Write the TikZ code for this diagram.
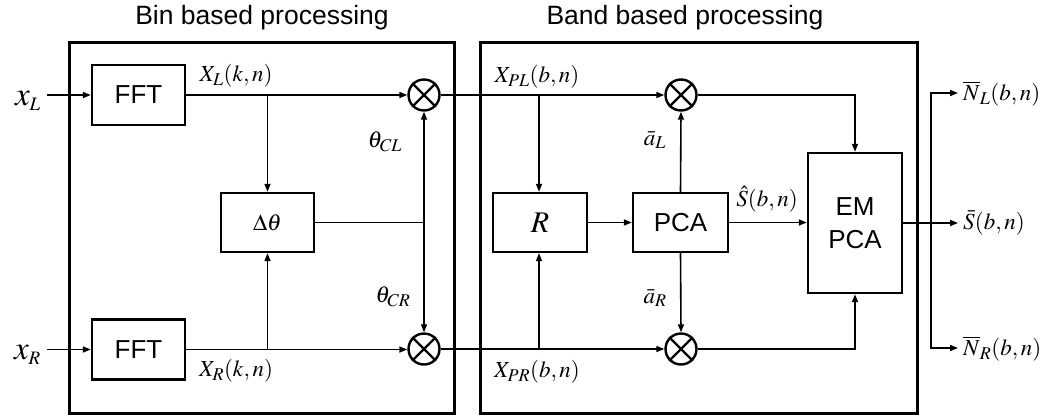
\documentclass[tikz,border=0pt]{standalone}
\usepackage{mathptmx}
\usepackage{fontspec}
\setsansfont{Liberation Sans}
\usetikzlibrary{arrows.meta,calc}
\DeclareMathSizes{23}{23}{18}{14}
\DeclareMathSizes{33}{33}{19}{14}
\newcommand\sz[1]{\fontsize{#1}{#1}\selectfont}
\tikzset{
 conn/.style={line width=1.6pt, -{Triangle[length=8pt,width=6pt]}},
 wire/.style={line width=1.6pt},
 blk/.style={draw, line width=2.4pt, rectangle, inner sep=0pt, font=\sffamily\sz{26}},
 mult/.style={draw, circle, line width=2.4pt, minimum size=31pt, inner sep=0pt},
 lab/.style={inner sep=0pt, font=\sz{23}},
 big/.style={inner sep=0pt, font=\sz{33}},
 outerbox/.style={draw, line width=3pt},
 title/.style={font=\sffamily\sz{26.5}, inner sep=0pt}
}
\begin{document}
\begin{tikzpicture}[x=1pt,y=-1pt]
\useasboundingbox (0,0) rectangle (1051,415);
% outer boxes
\draw[outerbox] (69,42) rectangle (454,413);
\draw[outerbox] (480,42) rectangle (917,413);
\node[title] (t1) at (262,18) {Bin based processing};
\node[title] (t2) at (685,18) {Band based processing};
% blocks
\node[blk, minimum width=93pt, minimum height=60pt] (fft1) at (138.5,95) {FFT};
\node[blk, minimum width=93pt, minimum height=60pt] (fft2) at (138.5,349.5) {FFT};
\node[blk, minimum width=93pt, minimum height=59pt] (dth) at (267.5,222.5) {\sz{23}$\Delta\theta$};
\node[blk, minimum width=94pt, minimum height=59pt] (R) at (540,222.5) {\sz{30}$R$};
\node[blk, minimum width=95pt, minimum height=59pt] (pca) at (680.5,222.5) {PCA};
\node[blk, minimum width=94pt, minimum height=140pt, align=center, font=\sffamily\fontsize{26}{33}\selectfont] (em) at (855,223) {EM\\PCA};
% multipliers
\node[mult] (mL) at (424,95) {};
\node[mult] (mR) at (424,349) {};
\node[mult] (mPL) at (681,95) {};
\node[mult] (mPR) at (681,349) {};
\foreach \m in {mL,mR,mPL,mPR}{
  \draw[line width=2.2pt] (\m.45) -- (\m.225) (\m.135) -- (\m.-45);
}
% coordinates
\coordinate (inL) at (47,95);
\coordinate (inR) at (47,349.5);
\coordinate (j1) at (267.5,95);
\coordinate (j2) at (267.5,349.5);
\coordinate (jt) at (424,222.5);
\coordinate (j3) at (539,95);
\coordinate (j4) at (539,349);
\coordinate (jo) at (931,223);
\coordinate (oNL) at (958,93);
\coordinate (oS) at (958,223);
\coordinate (oNR) at (958,348);
% input labels
\node[big, anchor=east] (xL) at (41,101) {$x_L$};
\node[big, anchor=east] (xR) at (41,355) {$x_R$};
% connectors
\draw[conn] (inL) -- (fft1.west);
\draw[conn] (inR) -- (fft2.west);
\draw[conn] (fft1.east) -- (mL.west);
\draw[conn] (fft2.east) -- (fft2.east -| mR.west);
\draw[conn] (j1) -- (dth.north);
\draw[conn] (j2) -- (dth.south);
\draw[wire] (dth.east) -- (jt);
\draw[conn] (jt) -- (mL.south);
\draw[conn] (jt) -- (mR.north);
\draw[conn] (mL.east) -- (mPL.west);
\draw[conn] (mR.east) -- (mPR.west);
\draw[conn] (j3) -- (j3 |- R.north);
\draw[conn] (j4) -- (j4 |- R.south);
\draw[conn] (R.east) -- (pca.west);
\draw[conn] (pca.north) -- (mPL.south);
\draw[conn] (pca.south) -- (mPR.north);
\draw[conn] (pca.east) -- (pca.east -| em.west);
\draw[conn] (mPL.east) -| (em.north);
\draw[conn] (mPR.east) -| (em.south);
\draw[conn] (em.east |- oS) -- (oS);
\draw[conn] (jo) |- (oNL);
\draw[conn] (jo) |- (oNR);
% labels
\node[lab] (lXL) at (236,76) {$X_L(k,n)$};
\node[lab] (lXR) at (236,371) {$X_R(k,n)$};
\node[lab] (lCL) at (385,142) {$\theta_{CL}$};
\node[lab] (lCR) at (393,297) {$\theta_{CR}$};
\node[lab] (lXPL) at (537,77) {$X_{PL}(b,n)$};
\node[lab] (lXPR) at (537,372) {$X_{PR}(b,n)$};
\node[lab] (laL) at (655,140) {$\bar{a}_L$};
\node[lab] (laR) at (655,298) {$\bar{a}_R$};
\node[lab] (lS) at (767,199) {$\hat{S}(b,n)$};
\node[lab, anchor=west] (lNL) at (963,94) {$\overline{N}_L(b,n)$};
\node[lab, anchor=west] (lSb) at (963,223) {$\bar{S}(b,n)$};
\node[lab, anchor=west] (lNR) at (963,349) {$\overline{N}_R(b,n)$};
\end{tikzpicture}
\end{document}
